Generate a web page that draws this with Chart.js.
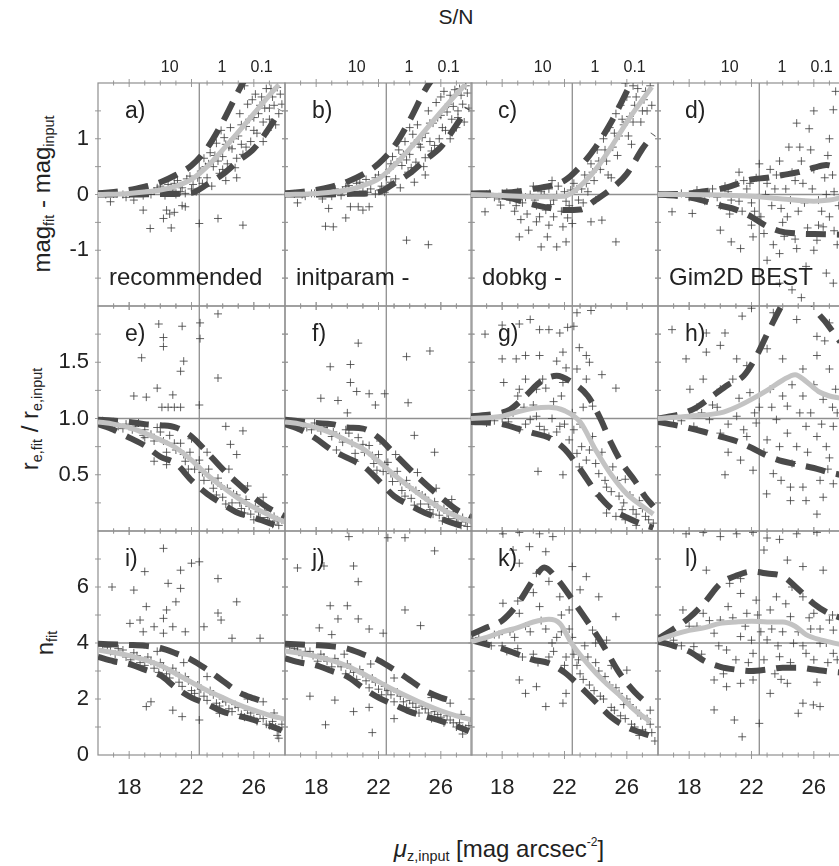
<!DOCTYPE html>
<html>
<head>
<meta charset="utf-8">
<script src="https://cdn.jsdelivr.net/npm/chart.js@4.4.0/dist/chart.umd.min.js"></script>
<style>
  body { margin: 0; background: #fff; overflow: hidden; }
  #wrap { position: relative; width: 839px; height: 866px; overflow: hidden;
          font-family: "Liberation Sans", Arial, Helvetica, sans-serif; color: #222; }
  #wrap canvas { position: absolute; }
  .t { position: absolute; white-space: nowrap; line-height: 1; }
  .c { transform: translate(-50%, -50%); }
  .rot { transform: translate(-50%, -50%) rotate(-90deg); }
  .t sub { font-size: 60%; vertical-align: -0.3em; }
  .t sup { font-size: 50%; vertical-align: 0.9em; }
</style>
</head>
<body>
<div id="wrap">
  <div class="t c" style="left:456px;top:16px;font-size:21px">S/N</div>
  <div class="t rot" style="left:43px;top:194px;font-size:24px">mag<sub>fit</sub> - mag<sub>input</sub></div>
  <div class="t rot" style="left:31px;top:419px;font-size:24px">r<sub>e,fit</sub> / r<sub>e,input</sub></div>
  <div class="t rot" style="left:46px;top:643px;font-size:24px">n<sub>fit</sub></div>
  <div class="t c" style="left:499px;top:850px;font-size:24px"><i>μ</i><sub>z,input</sub> [mag arcsec<sup>-2</sup>]</div>
</div>
<script>
// x axis: surface brightness, top axis: S/N
const xMin = 16, xMax = 28;
const xTicks = [18, 22, 26];
const snTickPos = [20.6, 23.95, 26.5];
const snTickLabels = ['10', '1', '0.1'];
const refX = 22.5;

// rows: mag diff, re ratio, n
const rowYMin = [-2, 0, 0];
const rowYMax = [2, 2, 8];
const rowYTicks = [[-1, 0, 1], [0.5, 1.0, 1.5], [0, 2, 4, 6]];
const rowRefY = [0, 1, 4];
const rowMinorY = [0.5, 0.25, 1];

const panelLetters = ['a)', 'b)', 'c)', 'd)', 'e)', 'f)', 'g)', 'h)', 'i)', 'j)', 'k)', 'l)'];
const panelNames = ['recommended', 'initparam -', 'dobkg -', 'Gim2D BEST'];

// median (grey) and percentile (dashed) curves, flat x,y pairs
const medA = [16,0, 18,0.02, 20,0.08, 21,0.15, 22,0.27, 23,0.5, 24,0.8, 25,1.12, 26,1.45, 27,1.78, 27.6,1.97];
const hiA  = [16,0.02, 18,0.08, 19,0.14, 20,0.22, 21,0.35, 22,0.52, 23,0.83, 24,1.3, 25,1.85, 25.4,2.05];
const loA  = [16,0, 18,0, 20,0.01, 22,0.03, 23,0.18, 24,0.36, 25,0.6, 26,0.82, 27,1.2, 27.7,1.52];
const medB = [16,0, 18,0.02, 20,0.08, 21,0.16, 22,0.28, 23,0.52, 24,0.82, 25,1.15, 26,1.48, 27,1.8, 27.6,1.98];
const hiB  = [16,0.02, 18,0.08, 19,0.14, 20,0.23, 21,0.36, 22,0.55, 23,0.86, 24,1.33, 25,1.88, 25.4,2.05];
const loB  = [16,0, 18,0, 20,0.01, 22,0.04, 23,0.2, 24,0.38, 25,0.62, 26,0.85, 27,1.25, 27.7,1.55];
const medC = [16,0, 18,-0.02, 20,-0.04, 22,-0.03, 23,0.15, 24,0.45, 25,0.85, 26,1.3, 27,1.7, 27.6,1.93];
const hiC  = [16,0.02, 18,0.03, 20,0.1, 22,0.25, 23,0.5, 24,0.85, 25,1.3, 26,1.85, 26.3,2.02];
const loC  = [16,0, 18,-0.03, 19,-0.1, 20,-0.18, 21,-0.24, 22,-0.28, 23,-0.27, 24,-0.1, 25,0.1, 26,0.37, 27,0.82, 27.7,1.08];
const medD = [16,0, 18,0, 20,-0.01, 22,-0.03, 24,-0.08, 26,-0.12, 27,-0.1, 27.7,-0.06];
const hiD  = [16,0, 18,0.02, 19,0.06, 20,0.1, 21,0.18, 22,0.27, 23,0.3, 24,0.35, 25,0.4, 26,0.48, 26.8,0.53, 27.7,0.46];
const loD  = [16,0, 18,-0.05, 19,-0.12, 20,-0.2, 21,-0.27, 22,-0.4, 23,-0.57, 24,-0.67, 25,-0.7, 26,-0.71, 27.7,-0.72];

const medE = [16,0.97, 17,0.95, 18,0.92, 19,0.87, 20,0.81, 21,0.74, 22,0.63, 23,0.5, 24,0.39, 25,0.29, 26,0.21, 27,0.14, 28,0.08];
const hiE  = [16,0.99, 18,0.97, 19,0.95, 20,0.94, 21,0.92, 22,0.84, 23,0.7, 24,0.55, 25,0.42, 26,0.3, 27,0.2, 28,0.13];
const loE  = [16,0.95, 17,0.9, 18,0.83, 19,0.76, 20,0.66, 21,0.6, 22,0.45, 23,0.33, 24,0.24, 25,0.16, 26,0.12, 27,0.07, 28,0.03];
const medF = [16,0.97, 17,0.95, 18,0.92, 19,0.87, 20,0.8, 21,0.73, 22,0.62, 23,0.5, 24,0.39, 25,0.29, 26,0.2, 27,0.13, 28,0.08];
const hiF  = [16,0.99, 18,0.96, 19,0.95, 20,0.92, 21,0.91, 22,0.83, 23,0.69, 24,0.55, 25,0.42, 26,0.3, 27,0.19, 28,0.12];
const loF  = [16,0.95, 17,0.9, 18,0.82, 19,0.72, 20,0.65, 21,0.58, 22,0.45, 23,0.31, 24,0.23, 25,0.16, 26,0.11, 27,0.06, 28,0.03];
const medG = [16,1.0, 18,1.02, 19,1.06, 20,1.09, 21,1.1, 22,1.07, 23,0.97, 24,0.72, 25,0.5, 26,0.33, 27,0.22, 27.7,0.15];
const hiG  = [16,1.02, 17.5,1.04, 18.5,1.08, 19.5,1.2, 20.5,1.33, 21.5,1.38, 22.5,1.32, 23.5,1.2, 24.3,1.0, 25,0.78, 25.7,0.6, 26.5,0.45, 27.2,0.3, 27.7,0.22];
const loG  = [16,0.97, 18,0.95, 19,0.91, 20,0.87, 21,0.83, 22,0.73, 23,0.55, 24,0.35, 25,0.2, 26,0.12, 27,0.06, 27.7,0.03];
const medH = [16,1.0, 18,1.02, 20,1.05, 21,1.1, 22,1.17, 23,1.25, 24,1.34, 24.8,1.39, 25.5,1.33, 26.3,1.24, 27,1.2, 27.7,1.18];
const hiH  = [16,1.0, 17.5,1.04, 18.5,1.1, 19.5,1.2, 20.5,1.3, 21.5,1.38, 22.3,1.55, 23,1.75, 23.8,1.97, 24.5,2.15, 25.5,2.2, 26,2.0, 26.8,1.85, 27.7,1.68];
const loH  = [16,0.97, 17.5,0.93, 19,0.88, 20,0.84, 21,0.8, 22,0.74, 23,0.67, 24,0.62, 25,0.59, 26,0.56, 27,0.52, 27.7,0.5];

const medI = [16,3.75, 18,3.55, 20,3.2, 21,2.9, 22,2.6, 23,2.3, 24,2.05, 25,1.8, 26,1.6, 27,1.42, 28,1.28];
const hiI  = [16,3.97, 18,3.93, 19,3.9, 20,3.82, 21,3.63, 22,3.4, 23,3.05, 24,2.65, 25,2.25, 26,2.02, 26.5,1.93];
const loI  = [16,3.5, 17,3.35, 18,3.25, 19,3.05, 20,2.85, 21,2.4, 22,2.05, 23,1.82, 24,1.55, 25,1.4, 26,1.25, 27,1.05, 27.8,0.88];
const medJ = [16,3.72, 18,3.52, 20,3.18, 21,2.9, 22,2.62, 23,2.32, 24,2.05, 25,1.8, 26,1.58, 27,1.4, 28,1.25];
const hiJ  = [16,3.97, 18,3.92, 19,3.88, 20,3.8, 21,3.6, 22,3.38, 23,3.05, 24,2.68, 25,2.3, 26,2.05, 26.6,1.95];
const loJ  = [16,3.45, 17,3.3, 18,3.2, 19,3.0, 20,2.8, 21,2.4, 22,2.05, 23,1.8, 24,1.55, 25,1.38, 26,1.22, 27,1.03, 27.8,0.85];
const medK = [16,4.05, 17,4.2, 18,4.4, 19,4.55, 20,4.75, 21,4.85, 21.7,4.7, 22.5,3.95, 23.5,3.25, 24.5,2.65, 25.5,2.15, 26.5,1.6, 27.5,1.2];
const hiK  = [16,4.3, 17,4.55, 18,4.8, 19,5.4, 20,6.25, 20.7,6.7, 21.5,6.3, 22.5,5.55, 23.5,4.75, 24.5,3.9, 25.5,2.95, 26.5,2.25, 27.5,1.75];
const loK  = [16,4.1, 17,3.95, 18,3.8, 19,3.6, 20,3.4, 21,3.28, 22,2.95, 23,2.45, 24,1.9, 25,1.35, 26,1.0, 27,0.78, 27.7,0.65];
const medL = [16,4.1, 17,4.3, 18,4.45, 19,4.55, 20,4.7, 21,4.75, 22,4.78, 23,4.75, 24,4.75, 24.8,4.6, 25.5,4.3, 26.5,4.1, 27.7,3.95];
const hiL  = [16,4.15, 17,4.5, 18,4.9, 19,5.45, 20,6.12, 21,6.4, 22,6.55, 23,6.48, 24,6.38, 25,5.92, 26,5.4, 27,5.05, 27.7,4.9];
const loL  = [16,4.05, 17,3.9, 18,3.7, 19,3.35, 20,3.15, 21,3.05, 22,3.0, 23,3.05, 24,3.12, 25,3.12, 26,3.05, 27,2.98, 27.7,2.95];

// individual galaxies (crosses), flat x,y pairs
const ptsA = [16.5,0.0, 17.2,0.02, 17.8,-0.05, 18.3,-0.1, 18.6,0.03, 19.0,0.08, 19.4,0.0, 19.8,0.12, 20.1,0.05, 20.5,0.18, 20.8,0.08, 21.1,0.25, 21.4,0.12, 21.6,0.02, 21.9,0.33, 22.1,0.18, 22.3,0.05, 21.0,0.0, 20.3,-0.02,
  16.8,-0.13, 18.9,-0.28, 19.35,-0.61, 20.2,-0.43, 20.4,-0.28, 20.6,-0.35, 20.9,-0.32, 20.7,-0.6, 21.4,-0.2, 22.5,-0.52, 23.7,-0.43, 25.3,-0.55, 21.6,-0.22,
  22.6,0.42, 22.8,0.65, 23.0,0.3, 23.2,0.75, 23.4,0.5, 23.6,0.92, 23.8,0.38, 24.0,0.68, 24.1,1.02, 24.3,0.55, 24.5,1.2, 24.6,0.82, 24.8,0.48, 25.0,1.05, 25.1,1.45, 25.3,0.72, 25.5,1.22, 25.6,1.62, 25.8,0.95, 26.0,1.38, 26.1,1.8, 26.2,1.1, 26.4,1.6, 26.6,1.3, 26.8,1.9, 27.0,1.55, 27.2,1.75, 27.4,1.25, 27.5,1.92, 27.8,1.62, 23.3,0.15, 24.9,0.3, 25.4,1.95, 26.6,0.95, 23.9,1.15, 24.4,0.85, 25.2,0.9, 25.9,1.7, 26.9,1.15, 27.6,1.45, 22.9,0.5, 24.2,0.25,
  17.0,0.01, 17.6,0.0, 18.1,0.04, 18.9,-0.02, 19.6,0.06, 20.0,0.15, 20.9,0.2, 21.3,0.05, 21.7,0.28, 22.0,0.1, 22.4,0.3, 22.7,0.2, 23.1,0.55, 23.5,0.7, 23.7,0.6, 24.0,0.45, 24.2,0.9, 24.7,1.0, 24.9,0.65, 25.2,1.25, 25.5,0.85, 25.7,1.35, 26.0,1.15, 26.3,1.45, 26.5,1.75, 26.7,1.55, 27.0,1.35, 27.1,1.9, 27.3,1.6, 27.7,1.8];
const ptsB = [16.6,0.01, 17.3,-0.03, 17.9,0.02, 18.4,-0.08, 18.8,0.05, 19.2,0.1, 19.6,-0.02, 19.9,0.14, 20.3,0.04, 20.6,0.2, 21.0,0.06, 21.2,0.27, 21.5,0.1, 21.8,0.01, 22.0,0.35, 22.2,0.15, 22.4,0.04,
  16.8,-0.15, 18.6,-0.57, 18.8,-0.25, 19.1,-0.58, 19.9,-0.42, 20.2,-0.22, 20.7,-0.22, 21.4,-0.22, 21.0,-0.28, 23.8,-0.82, 25.2,-0.9,
  22.7,0.45, 22.9,0.68, 23.1,0.28, 23.3,0.8, 23.5,0.52, 23.7,0.95, 23.9,0.4, 24.0,0.72, 24.2,1.08, 24.4,0.58, 24.5,1.25, 24.7,0.85, 24.9,0.5, 25.0,1.1, 25.2,1.5, 25.4,0.78, 25.5,1.28, 25.7,1.65, 25.9,1.0, 26.0,1.42, 26.2,1.85, 26.3,1.15, 26.5,1.62, 26.7,1.35, 26.9,1.88, 27.1,1.5, 27.3,1.78, 27.5,1.3, 27.6,1.95, 27.8,1.55, 23.4,0.12, 25.0,0.35, 24.0,1.2, 24.6,0.9, 25.3,0.95, 26.0,1.75, 27.0,1.2, 22.8,0.55, 24.3,0.22, 26.6,1.0,
  17.1,0.0, 17.7,0.02, 18.2,0.03, 19.0,-0.03, 19.7,0.07, 20.1,0.16, 20.8,0.22, 21.3,0.04, 21.8,0.3, 22.1,0.08, 22.5,0.32, 22.8,0.22, 23.2,0.58, 23.6,0.72, 23.8,0.62, 24.1,0.48, 24.3,0.92, 24.8,1.02, 25.0,0.66, 25.3,1.28, 25.6,0.88, 25.8,1.38, 26.1,1.2, 26.4,1.48, 26.6,1.78, 26.8,1.58, 27.1,1.38, 27.2,1.9, 27.4,1.62, 27.7,1.82];
const ptsC = [17.0,0.0, 17.5,-0.05, 18.0,0.02, 18.5,-0.1, 19.0,0.05, 19.3,-0.15, 19.8,0.0, 20.2,-0.2, 20.5,0.05, 20.8,-0.28, 21.0,0.1, 21.3,-0.1, 21.6,0.15, 21.8,-0.3, 22.0,0.05, 22.3,-0.2, 22.6,0.2, 22.9,-0.1, 18.8,-0.3, 19.6,-0.35, 20.4,-0.4, 21.0,-0.55, 22.2,-0.42, 19.2,-0.45, 20.0,0.15, 21.2,0.25,
  16.9,-0.31, 17.9,-0.19, 19.1,-0.76, 19.7,-0.64, 20.5,-0.94, 20.9,-0.76, 21.5,-0.94, 22.1,-0.85, 20.2,-0.49, 21.3,-0.4, 21.9,-0.58, 22.5,-0.52, 23.7,-0.49, 24.4,-0.46, 25.3,-0.85,
  23.1,0.1, 23.3,0.35, 23.5,0.05, 23.7,0.55, 23.9,0.25, 24.1,0.8, 24.3,0.45, 24.5,1.0, 24.7,0.6, 24.9,1.2, 25.1,0.85, 25.3,1.45, 25.5,1.05, 25.6,1.6, 25.8,1.25, 26.0,1.75, 26.2,1.4, 26.3,0.9, 26.5,1.6, 26.7,1.9, 26.9,1.3, 27.1,1.7, 27.3,1.5, 27.5,1.95, 25.9,2.0, 24.0,-0.1, 25.0,0.3, 26.4,1.95,
  17.2,0.02, 17.8,-0.08, 18.3,0.04, 18.9,-0.2, 19.5,-0.05, 20.1,-0.1, 20.7,0.0, 21.1,-0.18, 21.5,0.0, 22.1,-0.12, 22.4,0.08, 22.8,0.1, 23.2,-0.15, 23.4,0.2, 23.8,0.4, 24.2,0.6, 24.6,0.8, 24.8,0.35, 25.2,1.1, 25.4,0.7, 25.7,1.35, 26.1,1.05, 26.4,1.3, 26.6,1.75, 27.0,1.5, 27.2,1.85, 27.6,1.6];
const ptsD = [17.5,0.02, 18.0,-0.05, 18.5,0.08, 19.0,-0.12, 19.5,0.1, 20.0,-0.2, 20.3,0.15, 20.7,-0.1, 21.0,0.2, 21.4,-0.3, 21.7,0.1, 22.0,-0.15, 22.3,0.3, 22.6,-0.4, 23.0,0.2, 23.3,-0.2, 23.6,0.35, 24.0,-0.5, 24.2,0.1, 24.6,0.4, 25.0,-0.3, 25.3,0.2, 25.6,-0.6, 26.0,0.45, 26.3,-0.1, 26.7,0.3, 27.0,-0.4, 27.3,0.05, 22.8,-0.7, 23.8,0.6, 25.8,0.8, 24.8,-0.8, 26.9,0.7, 21.2,0.4, 27.5,-0.9, 25.2,0.6, 22.5,0.55, 23.4,-0.9, 26.0,-1.0, 27.0,1.0,
  16.9,-0.31, 18.2,-0.34, 24.9,1.28, 25.7,1.18, 27.25,1.52, 24.4,0.85, 20.7,-0.85, 22.1,-0.76, 23.0,-1.18, 23.8,-1.06, 24.9,-0.97, 25.5,-1.29, 26.8,-1.41, 23.8,-1.59, 24.6,-1.71, 27.25,-1.59, 26.2,-0.82, 26.6,-0.58, 24.3,-0.4, 21.3,-0.97, 20.0,-0.64, 26.0,1.5, 27.4,1.85, 25.2,-1.85,
  18.3,0.0, 19.3,0.02, 19.8,-0.05, 20.5,0.05, 21.2,-0.12, 21.9,0.2, 22.2,-0.3, 22.9,0.0, 23.5,0.1, 23.9,-0.25, 24.5,-0.1, 24.8,0.25, 25.4,-0.15, 25.9,0.1, 26.5,-0.3, 26.8,0.0, 27.2,0.35, 27.6,-0.2, 23.2,0.45, 24.1,-0.75, 25.1,0.85, 26.3,-0.55, 27.3,-0.65, 22.0,-0.55, 21.5,0.25, 20.6,-0.35];
const ptsE = [16.3,0.98, 16.8,0.96, 17.3,0.93, 17.8,0.95, 18.2,0.9, 18.6,0.96, 19.0,0.9, 19.4,0.86, 19.8,0.92, 20.2,0.8, 20.6,0.85, 21.0,0.72, 21.3,0.78, 21.6,0.62, 21.9,0.7, 22.2,0.55, 22.5,0.63, 22.8,0.45, 23.1,0.55, 23.4,0.38, 23.7,0.47, 24.0,0.3, 24.3,0.38, 24.6,0.25, 24.9,0.32, 25.2,0.2, 25.5,0.28, 25.8,0.15, 26.1,0.22, 26.4,0.12, 26.7,0.18, 27.0,0.08, 27.3,0.13, 27.6,0.05, 27.8,0.1, 23.0,0.7, 22.0,0.82, 24.4,0.55, 25.6,0.4, 26.6,0.3,
  19.9,1.84, 21.4,1.82, 20.2,1.72, 20.2,1.64, 18.8,1.54, 21.5,1.51, 21.3,1.42, 23.7,1.36, 19.8,1.27, 18.3,1.2, 19.1,1.19, 20.8,1.21, 22.55,1.71, 22.55,1.85, 23.7,1.93, 20.1,1.1, 20.5,1.1, 20.9,1.1, 21.3,1.1, 22.5,1.12, 24.2,0.93, 25.3,0.89, 24.5,0.77, 24.9,0.68, 19.6,0.62, 20.4,0.59, 19.0,0.83,
  17.0,0.97, 17.6,0.91, 18.4,0.93, 18.9,0.85, 19.6,0.8, 20.0,0.88, 20.4,0.7, 20.9,0.78, 21.5,0.68, 21.8,0.55, 22.3,0.6, 22.7,0.52, 23.3,0.45, 23.6,0.32, 23.9,0.4, 24.2,0.24, 24.7,0.33, 25.1,0.25, 25.4,0.16, 25.7,0.22, 26.0,0.1, 26.3,0.17, 26.9,0.12, 27.2,0.06, 27.5,0.09];
const ptsF = [16.4,0.97, 16.9,0.95, 17.4,0.92, 17.9,0.96, 18.3,0.89, 18.7,0.94, 19.1,0.88, 19.5,0.84, 19.9,0.9, 20.3,0.78, 20.7,0.83, 21.1,0.7, 21.4,0.76, 21.7,0.6, 22.0,0.68, 22.3,0.53, 22.6,0.61, 22.9,0.44, 23.2,0.53, 23.5,0.36, 23.8,0.45, 24.1,0.29, 24.4,0.36, 24.7,0.24, 25.0,0.3, 25.3,0.19, 25.6,0.26, 25.9,0.14, 26.2,0.2, 26.5,0.11, 26.8,0.17, 27.1,0.07, 27.4,0.12, 27.7,0.04, 23.1,0.68, 22.1,0.8, 24.5,0.52, 25.7,0.38, 26.7,0.28,
  20.7,1.67, 18.9,1.46, 20.2,1.48, 20.2,1.32, 23.8,1.55, 25.3,1.6, 20.6,1.24, 21.4,1.22, 22.4,1.22, 23.9,1.14, 18.3,1.18, 19.4,1.16, 21.8,1.12, 20.0,1.05, 19.3,0.72, 20.5,0.62, 24.3,0.85, 25.6,0.7,
  17.1,0.96, 17.7,0.9, 18.5,0.92, 19.0,0.84, 19.7,0.79, 20.1,0.87, 20.5,0.69, 21.0,0.77, 21.6,0.67, 21.9,0.54, 22.4,0.59, 22.8,0.51, 23.4,0.44, 23.7,0.31, 24.0,0.39, 24.3,0.23, 24.8,0.32, 25.2,0.24, 25.5,0.15, 25.8,0.21, 26.1,0.09, 26.4,0.16, 27.0,0.11, 27.3,0.05, 27.6,0.08];
const ptsG = [16.9,1.75, 18.0,1.83, 19.1,1.84, 19.8,1.88, 20.4,1.79, 21.0,1.79, 21.7,1.76, 22.2,1.81, 22.6,1.82, 22.8,1.94, 23.7,1.96, 18.0,1.53, 18.9,1.53, 19.5,1.56, 20.4,1.56, 21.5,1.51, 21.9,1.59, 22.1,1.45, 22.95,1.63, 23.4,1.56, 23.6,1.5, 24.4,1.39, 25.3,1.27, 18.1,1.32, 19.1,1.26, 19.5,1.35, 20.2,1.26, 20.8,1.27, 21.9,1.32, 22.8,1.44, 23.4,1.35, 23.8,1.11, 20.3,0.53, 21.9,0.5, 22.95,0.57,
  17.0,0.96, 18.0,1.0, 18.7,1.05, 19.1,0.9, 19.8,0.99, 20.4,0.93, 21.0,0.84, 21.7,0.93, 22.3,0.81, 22.8,0.69, 23.4,0.63, 23.8,0.84, 24.2,0.51, 24.7,0.39, 25.1,0.57, 25.5,0.31, 25.9,0.46, 26.4,0.19, 26.8,0.27, 27.2,0.13, 27.7,0.07, 24.7,0.16, 25.3,0.13, 25.9,0.1, 26.6,0.05, 24.2,0.31, 25.7,0.19, 20.0,1.12, 21.3,1.15, 22.5,1.05, 23.0,0.95, 19.4,1.1,
  17.5,0.98, 18.4,0.97, 19.5,0.95, 20.2,1.02, 20.7,0.9, 21.2,1.0, 21.5,0.88, 22.0,0.95, 22.6,0.9, 23.1,0.75, 23.6,0.72, 24.0,0.6, 24.4,0.7, 24.6,0.45, 25.0,0.35, 25.4,0.45, 25.8,0.25, 26.2,0.32, 26.6,0.15, 27.0,0.2, 27.4,0.1, 19.0,1.2, 20.6,1.35, 21.8,1.2, 23.2,1.1];
const ptsH = [16.9,1.79, 19.1,1.76, 20.3,1.76, 21.4,1.91, 23.4,1.94, 24.9,1.88, 26.2,1.73, 26.7,1.69, 27.0,1.85, 17.8,1.53, 19.1,1.59, 20.0,1.65, 21.05,1.53, 21.7,1.47, 23.0,1.62, 24.0,1.53, 25.3,1.44, 26.2,1.56, 27.0,1.44, 18.05,1.26, 18.9,1.35, 20.0,1.26, 20.8,1.35, 21.9,1.23, 23.2,1.26, 24.3,1.11, 25.3,1.2, 26.6,1.17, 27.4,1.26,
  17.0,1.0, 18.3,0.93, 19.3,0.99, 20.0,0.87, 21.05,1.02, 21.7,0.84, 22.3,0.96, 23.0,0.81, 23.6,0.99, 24.3,0.87, 24.9,0.75, 25.5,0.93, 26.2,0.84, 26.8,0.75, 27.25,0.93,
  20.3,0.5, 21.3,0.63, 22.1,0.54, 23.4,0.51, 24.5,0.39, 25.3,0.39, 26.4,0.45, 27.25,0.42, 24.5,0.27, 25.5,0.27, 26.2,0.15, 26.6,0.3, 22.97,0.33, 19.5,1.12, 22.5,1.1, 24.6,1.3, 25.8,1.05, 27.2,1.1, 18.5,1.1, 22.0,1.98,
  17.5,0.98, 18.8,1.05, 19.8,1.1, 20.5,0.95, 21.2,1.18, 21.5,0.9, 22.2,1.05, 22.8,0.7, 23.3,1.1, 23.8,0.75, 24.0,1.2, 24.6,0.6, 25.1,1.05, 25.6,0.7, 26.0,1.3, 26.5,0.95, 27.0,0.65, 27.5,1.05, 20.5,0.7, 23.9,0.45, 26.9,0.55];
const ptsI = [16.3,3.9, 16.8,3.7, 17.3,3.8, 17.8,3.5, 18.3,3.65, 18.7,3.3, 19.2,3.5, 19.6,3.1, 20.0,3.3, 20.4,2.9, 20.8,3.1, 21.2,2.6, 21.6,2.8, 22.0,2.3, 22.4,2.5, 22.8,2.1, 23.2,2.3, 23.6,1.85, 24.0,2.0, 24.4,1.65, 24.8,1.8, 25.2,1.45, 25.6,1.6, 26.0,1.3, 26.4,1.45, 26.8,1.1, 27.2,1.2, 27.6,0.9, 27.8,1.1, 27.5,0.7, 26.6,1.9, 25.6,2.0, 23.0,2.8, 21.5,3.3, 19.8,3.7, 27.3,1.5, 27.6,0.6,
  16.9,6.0, 18.3,5.89, 19.0,6.55, 20.2,7.38, 19.1,5.3, 20.5,6.13, 21.3,5.95, 21.3,6.6, 22.0,6.85, 22.5,6.9, 23.7,6.3, 24.9,5.47, 21.0,5.47, 20.4,5.18, 23.7,5.07, 23.9,4.82, 26.4,4.17, 24.6,4.17, 22.8,4.58, 18.05,4.7, 18.7,4.82, 19.6,4.58, 20.2,4.88, 20.8,4.58, 18.9,4.4, 20.2,4.35, 21.6,4.4,
  19.1,1.73, 19.4,1.9, 20.8,1.6, 21.4,1.37, 22.5,1.25, 23.8,1.49,
  16.6,3.85, 17.1,3.6, 17.6,3.75, 18.1,3.4, 18.5,3.55, 19.0,3.2, 19.4,3.35, 19.9,2.95, 20.2,3.15, 20.6,2.75, 21.0,2.95, 21.4,2.45, 21.8,2.65, 22.2,2.2, 22.6,2.35, 23.0,1.95, 23.4,2.15, 23.8,1.75, 24.2,1.9, 24.6,1.55, 25.0,1.7, 25.4,1.35, 25.8,1.5, 26.2,1.2, 26.6,1.3, 27.0,1.05, 27.4,1.0];
const ptsJ = [16.3,3.85, 16.8,3.75, 17.3,3.7, 17.8,3.55, 18.3,3.6, 18.7,3.35, 19.2,3.45, 19.6,3.15, 20.0,3.25, 20.4,2.95, 20.8,3.05, 21.2,2.65, 21.6,2.75, 22.0,2.35, 22.4,2.45, 22.8,2.15, 23.2,2.25, 23.6,1.9, 24.0,1.95, 24.4,1.7, 24.8,1.75, 25.2,1.5, 25.6,1.55, 26.0,1.35, 26.4,1.4, 26.8,1.15, 27.2,1.15, 27.6,0.95, 27.8,1.05, 27.4,0.75, 26.6,1.85, 25.4,2.05, 23.0,2.75, 21.5,3.25, 19.8,3.6, 27.3,1.45,
  16.8,6.68, 18.5,6.75, 20.4,6.75, 20.7,6.19, 18.9,5.33, 20.0,5.33, 19.4,4.86, 20.7,4.86, 18.2,4.54, 23.7,5.18, 24.7,4.62, 25.6,7.29, 23.7,7.76, 20.1,7.8, 22.6,7.76, 19.0,4.3, 21.4,4.5, 22.3,4.35,
  17.6,2.1, 19.2,1.96, 18.6,1.08, 20.4,1.55, 21.4,1.7, 21.6,0.8, 23.0,1.3,
  16.6,3.8, 17.1,3.55, 17.6,3.7, 18.1,3.35, 18.5,3.5, 19.0,3.15, 19.4,3.3, 19.9,2.9, 20.2,3.1, 20.6,2.7, 21.0,2.9, 21.4,2.4, 21.8,2.6, 22.2,2.15, 22.6,2.3, 23.0,1.9, 23.4,2.1, 23.8,1.7, 24.2,1.85, 24.6,1.5, 25.0,1.65, 25.4,1.3, 25.8,1.45, 26.2,1.15, 26.6,1.25, 27.0,1.0, 27.4,0.95];
const ptsK = [18.05,7.9, 19.1,7.95, 20.4,7.9, 21.25,7.8, 18.7,7.32, 19.75,7.44, 20.8,7.26, 19.1,6.85, 20.2,6.49, 22.5,6.73, 23.4,6.37, 24.2,5.65, 25.3,4.94, 18.05,5.42, 19.1,5.06, 20.4,5.3, 21.7,5.65, 22.3,5.18, 23.8,4.46, 24.7,4.1, 26.0,3.03, 19.1,2.68, 20.2,2.44, 20.8,1.73, 21.9,1.85, 22.1,2.2, 19.5,2.2,
  16.5,4.2, 17.0,4.0, 17.5,4.3, 18.0,3.9, 18.5,4.4, 19.0,3.8, 19.5,4.6, 20.0,3.6, 20.5,4.8, 21.0,3.5, 21.5,4.2, 22.0,3.2, 22.3,4.5, 22.6,3.6, 23.0,2.9, 23.3,3.9, 23.6,2.5, 24.0,3.3, 24.3,2.1, 24.6,2.8, 25.0,1.7, 25.3,2.4, 25.6,1.4, 26.0,2.0, 26.3,1.1, 26.6,1.6, 27.0,0.9, 27.3,1.3, 27.6,0.8, 27.8,0.5, 21.2,4.0, 22.8,3.2, 25.8,1.8, 26.8,0.7, 27.5,1.6, 20.0,5.8, 21.0,6.2, 23.0,5.9,
  16.8,4.1, 17.3,3.9, 17.8,4.3, 18.3,3.7, 18.8,4.2, 19.3,3.5, 19.8,4.4, 20.3,3.3, 20.8,4.5, 21.3,3.7, 21.8,4.4, 22.1,3.5, 22.5,4.2, 22.9,3.4, 23.2,2.7, 23.5,3.5, 23.9,2.3, 24.2,3.0, 24.5,2.0, 24.9,2.5, 25.2,1.6, 25.5,2.2, 25.9,1.3, 26.2,1.8, 26.5,1.0, 26.9,1.4, 27.2,0.8, 27.5,1.1, 19.0,5.5, 21.8,5.0, 24.0,4.0, 25.0,3.2];
const ptsL = [17.8,7.9, 18.9,7.95, 20.0,7.8, 21.05,7.9, 22.1,7.95, 23.0,7.75, 23.8,7.7, 24.9,7.9, 26.2,7.95, 22.8,7.32, 24.3,6.96, 25.3,6.73, 26.6,6.6, 19.1,6.6, 20.6,6.13, 21.3,5.77, 22.3,5.53, 23.6,5.65, 25.3,5.65, 26.0,5.06, 27.0,4.82, 17.6,5.18, 18.9,5.06, 20.0,4.82, 21.7,5.06, 23.2,5.18, 24.5,4.94, 27.25,4.46,
  17.0,4.1, 18.3,3.87, 19.6,4.35, 20.4,3.75, 21.3,4.23, 22.1,3.63, 23.0,4.11, 23.8,3.51, 24.7,3.99, 25.5,3.63, 26.4,3.99, 27.25,3.63,
  19.6,2.68, 20.4,2.44, 21.3,2.56, 22.1,2.68, 23.2,2.2, 24.3,2.56, 25.3,1.85, 26.4,1.73, 19.6,1.61, 20.9,1.25, 21.4,0.65, 22.5,1.13, 25.0,1.49, 25.97,1.79, 18.5,4.6, 20.8,4.9, 22.6,4.4, 24.0,4.4, 25.8,4.5, 26.9,3.3, 21.8,3.3, 23.5,2.9,
  16.8,4.3, 17.5,3.9, 18.0,4.6, 18.8,3.6, 19.3,4.8, 19.9,3.9, 20.5,5.3, 21.0,3.4, 21.6,4.6, 22.0,4.1, 22.4,5.0, 22.8,3.4, 23.3,4.5, 23.7,3.9, 24.2,5.4, 24.5,3.3, 25.0,4.4, 25.3,3.9, 25.7,4.9, 26.0,3.4, 26.4,4.5, 26.8,4.0, 27.2,5.0, 27.5,3.4, 20.2,2.9, 23.9,2.7, 26.2,2.6, 21.3,6.3, 24.6,6.0];

const panels = [
  [ptsA, medA, hiA, loA], [ptsB, medB, hiB, loB], [ptsC, medC, hiC, loC], [ptsD, medD, hiD, loD],
  [ptsE, medE, hiE, loE], [ptsF, medF, hiF, loF], [ptsG, medG, hiG, loG], [ptsH, medH, hiH, loH],
  [ptsI, medI, hiI, loI], [ptsJ, medJ, hiJ, loJ], [ptsK, medK, hiK, loK], [ptsL, medL, hiL, loL]
];

const FONT = '"Liberation Sans", Arial, Helvetica, sans-serif';
Chart.defaults.font.family = FONT;
Chart.defaults.color = '#222';

const colLeft = [98, 285, 471, 658];
const W = 187;
const rowTop = [83, 306, 531];
const rowH = [223, 225, 224];

function xy(a) {
  const out = [];
  for (let i = 0; i < a.length; i += 2) out.push({ x: a[i], y: a[i + 1] });
  return out;
}

// frame, reference lines and small tick marks of each panel
const framePlugin = {
  id: 'frame',
  beforeDatasetsDraw(chart, args, o) {
    const { ctx, chartArea: a } = chart;
    const x = chart.scales.x, y = chart.scales.y;
    ctx.save();
    ctx.strokeStyle = '#8f8f8f';
    ctx.lineWidth = 1.3;
    ctx.beginPath();
    const vx = x.getPixelForValue(refX);
    ctx.moveTo(vx, a.top); ctx.lineTo(vx, a.bottom);
    const hy = y.getPixelForValue(o.refY);
    ctx.moveTo(a.left, hy); ctx.lineTo(a.right, hy);
    ctx.stroke();

    ctx.lineWidth = 1;
    ctx.strokeStyle = '#9a9a9a';
    ctx.beginPath();
    for (let v = xMin + 1; v < xMax; v += 1) {
      const px = x.getPixelForValue(v);
      const len = xTicks.includes(v) ? 4 : 2.5;
      ctx.moveTo(px, a.top - len); ctx.lineTo(px, a.top + len);
      ctx.moveTo(px, a.bottom - len); ctx.lineTo(px, a.bottom + len);
    }
    for (let v = y.min + o.minorY; v < y.max - 1e-9; v += o.minorY) {
      const py = y.getPixelForValue(v);
      ctx.moveTo(a.left - 3, py); ctx.lineTo(a.left + 3, py);
      ctx.moveTo(a.right - 3, py); ctx.lineTo(a.right + 3, py);
    }
    ctx.stroke();
    ctx.strokeStyle = '#8f8f8f';
    ctx.lineWidth = 1.2;
    ctx.strokeRect(a.left, a.top, a.right - a.left, a.bottom - a.top);
    ctx.restore();
  }
};

const wrap = document.getElementById('wrap');

panels.forEach((p, i) => {
  const r = Math.floor(i / 4), c = i % 4;
  const showY = c === 0, showBottom = r === 2, showTop = r === 0;
  const padL = showY ? 98 : 26, padR = 26;
  const padT = showTop ? 50 : 26, padB = showBottom ? 60 : 26;
  const w = W + padL + padR, h = rowH[r] + padT + padB;

  const cv = document.createElement('canvas');
  cv.width = w; cv.height = h;
  cv.style.width = w + 'px'; cv.style.height = h + 'px';
  cv.style.left = (colLeft[c] - padL) + 'px';
  cv.style.top = (rowTop[r] - padT) + 'px';
  wrap.appendChild(cv);

  const scales = {
    x: {
      type: 'linear', min: xMin, max: xMax, position: 'bottom', display: showBottom,
      afterBuildTicks: s => { s.ticks = xTicks.map(v => ({ value: v })); },
      grid: { display: false, drawTicks: false }, border: { display: false },
      ticks: { autoSkip: false, maxRotation: 0, padding: 20, color: '#222', font: { size: 22 } }
    },
    y: {
      type: 'linear', min: rowYMin[r], max: rowYMax[r], display: showY,
      afterBuildTicks: s => { s.ticks = rowYTicks[r].map(v => ({ value: v })); },
      grid: { display: false, drawTicks: false }, border: { display: false },
      ticks: { autoSkip: false, padding: 9, color: '#222', font: { size: 22 },
               callback: v => (r === 1 ? v.toFixed(1) : String(v)) }
    }
  };
  if (showBottom) scales.x.afterFit = s => { s.height = padB; };
  if (showY) scales.y.afterFit = s => { s.width = padL; };
  if (showTop) {
    scales.xTop = {
      type: 'linear', min: xMin, max: xMax, position: 'top', display: true,
      afterBuildTicks: s => { s.ticks = snTickPos.map(v => ({ value: v })); },
      afterFit: s => { s.height = padT; },
      grid: { display: false, drawTicks: false }, border: { display: false },
      ticks: { autoSkip: false, maxRotation: 0, padding: 6, color: '#222', font: { size: 16 },
               callback: (v, k) => snTickLabels[k] }
    };
  }

  const lineDs = (d, color, width, dash) => ({
    data: xy(d), xAxisID: 'x', yAxisID: 'y', showLine: true, pointRadius: 0,
    borderColor: color, borderWidth: width, borderDash: dash, borderCapStyle: 'butt',
    cubicInterpolationMode: 'monotone', clip: 0
  });

  new Chart(cv, {
    type: 'scatter',
    data: {
      datasets: [
        lineDs(p[1], '#c3c3c3', 5, []),
        lineDs(p[2], '#4a4a4a', 6, [20, 11]),
        lineDs(p[3], '#4a4a4a', 6, [20, 11]),
        { data: xy(p[0]), xAxisID: 'x', yAxisID: 'y', pointStyle: 'cross', pointRadius: 4,
          borderWidth: 1, borderColor: 'rgba(60,60,60,0.8)', backgroundColor: 'rgba(60,60,60,0.8)', clip: 0 }
      ]
    },
    options: {
      responsive: false, animation: false, events: [],
      layout: { padding: { left: showY ? 0 : padL, right: padR, top: showTop ? 0 : padT, bottom: showBottom ? 0 : padB } },
      scales: scales,
      plugins: { legend: { display: false }, tooltip: { enabled: false },
                 frame: { refY: rowRefY[r], minorY: rowMinorY[r] } }
    },
    plugins: [framePlugin]
  });

  const lt = document.createElement('div');
  lt.className = 't';
  lt.style.cssText = 'left:' + (colLeft[c] + 27) + 'px;top:' + (rowTop[r] + 27) + 'px;font-size:23px;transform:translateY(-50%)';
  lt.textContent = panelLetters[i];
  wrap.appendChild(lt);

  if (r === 0) {
    const nm = document.createElement('div');
    nm.className = 't';
    nm.style.cssText = 'left:' + (colLeft[c] + 11) + 'px;top:277px;font-size:24px;transform:translateY(-50%)';
    nm.textContent = panelNames[c];
    wrap.appendChild(nm);
  }
});
</script>
</body>
</html>
